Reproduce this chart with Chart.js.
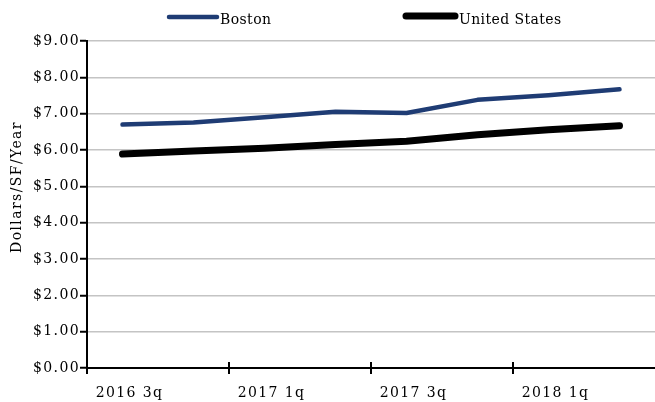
<!DOCTYPE html>
<html>
<head>
<meta charset="utf-8">
<script src="https://cdn.jsdelivr.net/npm/chart.js@4.4.1/dist/chart.umd.min.js"></script>
<style>
  html, body { margin: 0; padding: 0; background: #fff; }
  #wrap { width: 655px; height: 402px; }
</style>
</head>
<body>
<div id="wrap"><canvas id="rentChart" width="655" height="402"></canvas></div>
<script>
// Asking rent, dollars per square foot per year, by quarter
const quarters = ['2016 3q', '2016 4q', '2017 1q', '2017 2q', '2017 3q', '2017 4q', '2018 1q', '2018 2q'];
const bostonRent = [6.70, 6.76, 6.90, 7.05, 7.02, 7.38, 7.51, 7.67];
const usRent = [5.89, 5.97, 6.05, 6.15, 6.24, 6.42, 6.56, 6.67];
const seriesNames = ['Boston', 'United States'];
const yAxisTitle = 'Dollars/SF/Year';
const yMin = 0, yMax = 9, yStep = 1;

const SERIF = '"DejaVu Serif", "Liberation Serif", serif';
const TRACKING = '1.4px';

// Extra drawing: tick marks across the category axis, rotated axis title, line legend
const decorations = {
  id: 'decorations',
  beforeLayout(chart) { chart.ctx.letterSpacing = TRACKING; },
  beforeDraw(chart) { chart.ctx.letterSpacing = TRACKING; },
  afterDraw(chart) {
    const ctx = chart.ctx;
    const xs = chart.scales.x, ys = chart.scales.y;
    const half = (xs.getPixelForValue(1) - xs.getPixelForValue(0)) / 2;

    ctx.save();
    ctx.strokeStyle = '#000';
    ctx.lineWidth = 2;
    for (let i = 0; i < quarters.length; i += 2) {
      const px = Math.round(xs.getPixelForValue(i) - half);
      ctx.beginPath();
      ctx.moveTo(px, ys.bottom - 6);
      ctx.lineTo(px, ys.bottom + 6);
      ctx.stroke();
    }
    ctx.restore();

    // vertical axis title
    ctx.save();
    ctx.letterSpacing = TRACKING;
    ctx.font = '14px ' + SERIF;
    ctx.fillStyle = '#000';
    ctx.translate(17, 187);
    ctx.rotate(-Math.PI / 2);
    ctx.textAlign = 'center';
    ctx.textBaseline = 'middle';
    ctx.fillText(yAxisTitle, 0, 0);
    ctx.restore();

    // legend: line sample followed directly by the series name
    const slots = [
      { x0: 169, x1: 217, ly: 17, tx: 220, ty: 24 },
      { x0: 406, x1: 455, ly: 16, tx: 459, ty: 24 }
    ];
    chart.data.datasets.forEach((ds, i) => {
      const s = slots[i];
      ctx.save();
      ctx.strokeStyle = ds.borderColor;
      ctx.lineWidth = ds.borderWidth;
      ctx.lineCap = 'round';
      ctx.beginPath();
      ctx.moveTo(s.x0, s.ly);
      ctx.lineTo(s.x1, s.ly);
      ctx.stroke();
      ctx.letterSpacing = '0.4px';
      ctx.font = '14px ' + SERIF;
      ctx.fillStyle = '#000';
      ctx.textAlign = 'left';
      ctx.textBaseline = 'alphabetic';
      ctx.fillText(ds.label, s.tx, s.ty);
      ctx.restore();
    });
  }
};

new Chart(document.getElementById('rentChart'), {
  type: 'line',
  data: {
    labels: quarters,
    datasets: [
      {
        label: seriesNames[0],
        data: bostonRent,
        borderColor: '#1f3c74',
        borderWidth: 4.5,
        borderCapStyle: 'round',
        borderJoinStyle: 'round',
        pointRadius: 0,
        tension: 0,
        fill: false
      },
      {
        label: seriesNames[1],
        data: usRent,
        borderColor: '#000000',
        borderWidth: 7,
        borderCapStyle: 'round',
        borderJoinStyle: 'round',
        pointRadius: 0,
        tension: 0,
        fill: false
      }
    ]
  },
  options: {
    responsive: false,
    animation: false,
    devicePixelRatio: 1,
    layout: { padding: { top: 41, right: 0, bottom: 0, left: 0 } },
    plugins: {
      legend: { display: false },
      tooltip: { enabled: false }
    },
    scales: {
      x: {
        type: 'category',
        offset: true,
        grid: { display: false, drawTicks: false },
        border: { display: true, color: '#000', width: 2 },
        ticks: {
          autoSkip: false,
          maxRotation: 0,
          minRotation: 0,
          padding: 17,
          labelOffset: 7,
          color: '#000',
          font: { family: SERIF, size: 14 },
          callback: (v, i) => (i % 2 === 0 ? quarters[i] : '')
        },
        afterFit: (s) => { s.height = 34; }
      },
      y: {
        min: yMin,
        max: yMax,
        ticks: {
          stepSize: yStep,
          padding: 0,
          color: '#000',
          font: { family: SERIF, size: 14 },
          callback: (v) => '$' + Number(v).toFixed(2)
        },
        grid: {
          color: '#c4c4c4',
          lineWidth: 1.5,
          tickColor: '#000',
          tickLength: 7,
          tickWidth: 2
        },
        border: { display: true, color: '#000', width: 2 },
        afterFit: (s) => { s.width = 87; }
      }
    }
  },
  plugins: [decorations]
});
</script>
</body>
</html>
